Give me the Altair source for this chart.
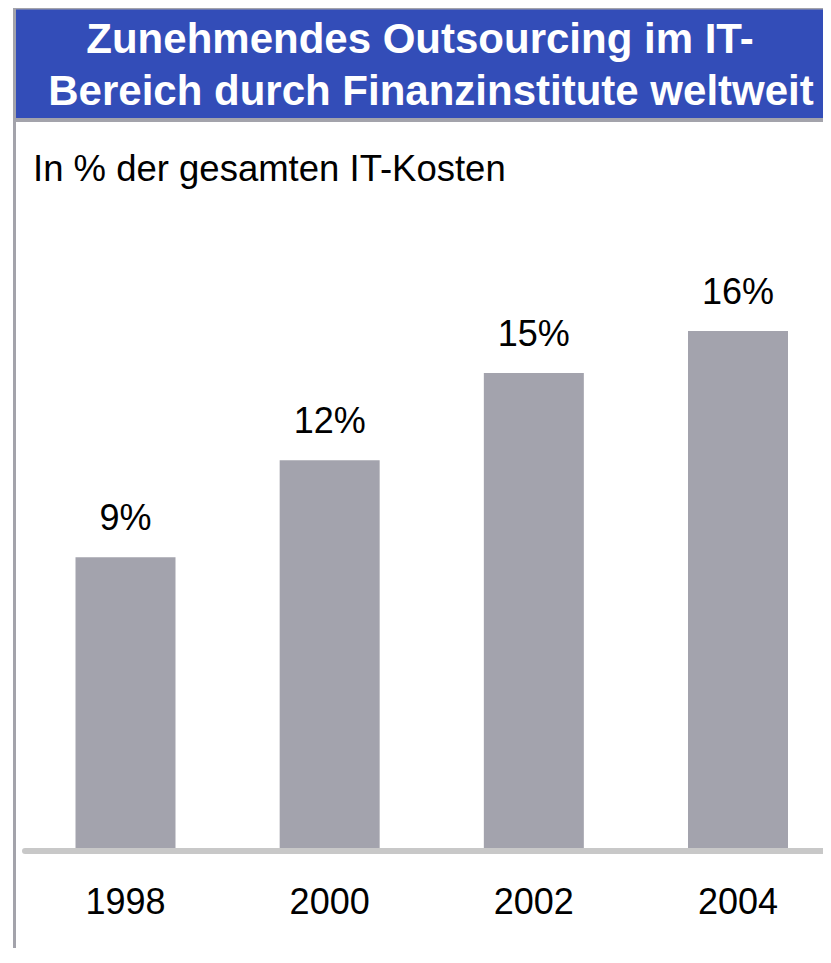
import altair as alt
import pandas as pd

# ---- data ----
years = ["1998", "2000", "2002", "2004"]
values = [9.0, 12.0, 14.7, 16.0]          # bar heights (% of total IT costs)
labels = ["9%", "12%", "15%", "16%"]       # printed labels
title_lines = ["Zunehmendes Outsourcing im IT-", "Bereich durch Finanzinstitute weltweit"]
subtitle = "In % der gesamten IT-Kosten"

df = pd.DataFrame({"year": years, "value": values, "label": labels})
one = pd.DataFrame({"k": [0]})

W, H = 815, 940
FONT = "Liberation Sans"
BLUE = "#334DB8"
FRAME = "#A3A3AB"
BAR = "#A3A3AD"

x = alt.X("year:O", axis=None,
          scale=alt.Scale(range=[67.5, 780], paddingInner=0.5102, paddingOuter=0))
y = alt.Y("value:Q", axis=None, scale=alt.Scale(domain=[0, 26], range=[840, 0]))

bars = alt.Chart(df).mark_bar(color=BAR).encode(x=x, y=y)
vals = alt.Chart(df).mark_text(font=FONT, fontSize=36, color="black",
                               baseline="alphabetic", align="center", dy=-27).encode(
    x=x, y=y, text="label:N")
yrs = alt.Chart(df).mark_text(font=FONT, fontSize=36, color="black",
                              baseline="alphabetic", align="center").encode(
    x=x, y=alt.value(906), text="year:N")

base_line = alt.Chart(one).mark_rule(color="#C8C8C8", strokeWidth=6, strokeCap="round").encode(
    x=alt.value(17), x2=alt.value(830), y=alt.value(843))

band = alt.Chart(one).mark_rect(color=BLUE).encode(
    x=alt.value(8), x2=alt.value(830), y=alt.value(1), y2=alt.value(110))
top_line = alt.Chart(one).mark_rect(color=FRAME).encode(
    x=alt.value(5), x2=alt.value(830), y=alt.value(0), y2=alt.value(1.5))
under_line = alt.Chart(one).mark_rect(color=FRAME).encode(
    x=alt.value(5), x2=alt.value(830), y=alt.value(110), y2=alt.value(114))
left_line = alt.Chart(one).mark_rect(color=FRAME).encode(
    x=alt.value(5), x2=alt.value(8), y=alt.value(0), y2=alt.value(H))

t1 = alt.Chart(one).mark_text(font=FONT, fontSize=42, fontWeight="bold", color="white",
                              align="center", baseline="alphabetic", text=title_lines[0]).encode(
    x=alt.value(412), y=alt.value(45))
t2 = alt.Chart(one).mark_text(font=FONT, fontSize=42, fontWeight="bold", color="white",
                              align="center", baseline="alphabetic", text=title_lines[1]).encode(
    x=alt.value(423), y=alt.value(97))
sub = alt.Chart(one).mark_text(font=FONT, fontSize=36.5, color="black",
                               align="left", baseline="alphabetic", text=subtitle).encode(
    x=alt.value(25), y=alt.value(173))

chart = alt.layer(band, top_line, under_line, left_line, t1, t2, sub,
                  bars, base_line, vals, yrs).properties(
    width=W, height=H, padding=0, autosize=alt.AutoSizeParams(type="none"),
    background="white"
).configure_view(stroke=None)

chart.save("out.html", embed_options={"renderer": "svg", "actions": False})
